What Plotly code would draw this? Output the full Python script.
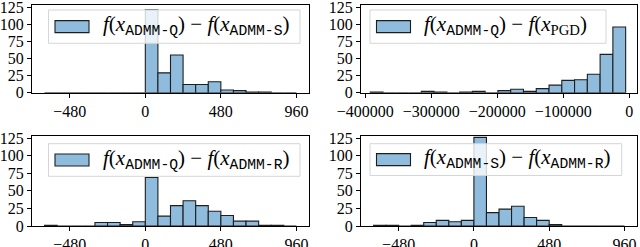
import plotly.graph_objects as go

# ---------------- data ----------------
# histogram counts; bins of width 80 starting at -640 (panels 1,3,4)
bin_start_small = -640
bin_width_small = 80
counts_q_s = [0, 0, 0, 0, 0, 0, 0, 0, 121, 29, 55, 12, 12, 16, 4, 3, 1, 1, 0, 0]
counts_q_r = [1, 0, 0, 0, 5, 5, 2, 6, 69, 14, 29, 36, 29, 21, 15, 7, 7, 1, 1, 0]
counts_s_r = [1, 1, 0, 1, 5, 8, 6, 8, 126, 19, 24, 28, 12, 8, 2, 0, 0, 0, 0, 0]
# panel 2 bins
bin_start_pgd = -392500
bin_width_pgd = 19350
counts_q_pgd = [1, 0, 0, 0, 2, 1, 0, 1, 2, 0, 3, 5, 2, 6, 11, 18, 19, 27, 56, 96]

MONO = "<span style='font-family:Liberation Mono'>{}</span>"
labels = [
    "<i>f</i>(<i>x</i><sub>" + MONO.format("ADMM-Q") + "</sub>) − <i>f</i>(<i>x</i><sub>" + MONO.format("ADMM-S") + "</sub>)",
    "<i>f</i>(<i>x</i><sub>" + MONO.format("ADMM-Q") + "</sub>) − <i>f</i>(<i>x</i><sub>PGD</sub>)",
    "<i>f</i>(<i>x</i><sub>" + MONO.format("ADMM-Q") + "</sub>) − <i>f</i>(<i>x</i><sub>" + MONO.format("ADMM-R") + "</sub>)",
    "<i>f</i>(<i>x</i><sub>" + MONO.format("ADMM-S") + "</sub>) − <i>f</i>(<i>x</i><sub>" + MONO.format("ADMM-R") + "</sub>)",
]
small_ticks = [-480, 0, 480, 960]
small_tick_text = ["−480", "0", "480", "960"]
pgd_ticks = [-400000, -300000, -200000, -100000, 0]
pgd_tick_text = ["−400000", "−300000", "−200000", "−100000", "0"]
y_ticks = [0, 25, 50, 75, 100, 125]

# ---------------- layout ----------------
W, H = 640, 247
FONT = "Liberation Serif, serif"
BAR_FILL = "#8fbcdd"
BAR_EDGE = "#1e1e1e"

def px_x(p):
    return p / W

def px_y(p):
    return 1 - p / H

panels = [
    (counts_q_s, bin_start_small, bin_width_small, (32, 309), (5, 92.7), [-720, 1040],
     small_ticks, small_tick_text, (48.5, 10, 300, 43.3)),
    (counts_q_pgd, bin_start_pgd, bin_width_pgd, (361, 637), (5, 92.7), [-406500, 11700],
     pgd_ticks, pgd_tick_text, (370, 10, 606, 43.3)),
    (counts_q_r, bin_start_small, bin_width_small, (32, 309), (136, 226), [-720, 1040],
     small_ticks, small_tick_text, (48.5, 143.7, 300, 176.3)),
    (counts_s_r, bin_start_small, bin_width_small, (361, 637), (136, 226), [-720, 1040],
     small_ticks, small_tick_text, (370, 143.7, 621.7, 175.5)),
]

fig = go.Figure()
shapes = []
annotations = []
for i, (counts, start, width, xd, yd, xr, tv, tt, lb) in enumerate(panels):
    n = i + 1
    xa = "x" if n == 1 else f"x{n}"
    ya = "y" if n == 1 else f"y{n}"
    centers = [start + width * (k + 0.5) for k in range(len(counts))]
    fig.add_trace(go.Bar(
        x=centers, y=counts, width=[width] * len(counts),
        marker=dict(color=BAR_FILL, line=dict(color=BAR_EDGE, width=1.1)),
        xaxis=xa, yaxis=ya, showlegend=False, hoverinfo="skip",
    ))
    common = dict(
        automargin=False, ticklabeloverflow="allow",
        ticks="outside", ticklen=4, tickwidth=1, tickcolor="black",
        showline=True, linecolor="black", linewidth=1, mirror=True,
        showgrid=False, zeroline=False,
        tickfont=dict(family=FONT, size=16, color="black"),
    )
    axx = dict(domain=[px_x(xd[0]), px_x(xd[1])], range=xr, anchor=ya,
               tickmode="array", tickvals=tv, ticktext=tt, **common)
    axy = dict(domain=[px_y(yd[1]), px_y(yd[0])], range=[0, 128], anchor=xa,
               tickmode="array", tickvals=y_ticks, **common)
    fig.layout["xaxis" if n == 1 else f"xaxis{n}"] = axx
    fig.layout["yaxis" if n == 1 else f"yaxis{n}"] = axy

    # legend box
    x0, y0, x1, y1 = lb
    shapes.append(dict(
        type="rect", xref="paper", yref="paper", layer="above",
        x0=px_x(x0), x1=px_x(x1), y0=px_y(y1), y1=px_y(y0),
        fillcolor="rgba(255,255,255,0.8)", line=dict(color="#d6d6d6", width=1),
    ))
    ymid = (y0 + y1) / 2
    shapes.append(dict(
        type="rect", xref="paper", yref="paper", layer="above",
        x0=px_x(x0 + 6.5), x1=px_x(x0 + 40.5), y0=px_y(ymid + 6), y1=px_y(ymid - 6),
        fillcolor=BAR_FILL, line=dict(color=BAR_EDGE, width=1.1),
    ))
    annotations.append(dict(
        xref="paper", yref="paper", x=px_x(x0 + 52), y=px_y(ymid - 1),
        xanchor="left", yanchor="middle", showarrow=False,
        text=labels[i], font=dict(family=FONT, size=21, color="black"),
    ))

fig.update_layout(
    width=W, height=H, margin=dict(l=0, r=0, t=0, b=0, autoexpand=False),
    paper_bgcolor="white", plot_bgcolor="white",
    font=dict(family=FONT, size=15, color="black"),
    bargap=0, shapes=shapes, annotations=annotations,
    showlegend=False,
)
fig.write_html(
    "out.html",
    config={"displayModeBar": False, "staticPlot": True},
    post_script="document.body.style.margin='0';document.body.style.padding='0';",
)
